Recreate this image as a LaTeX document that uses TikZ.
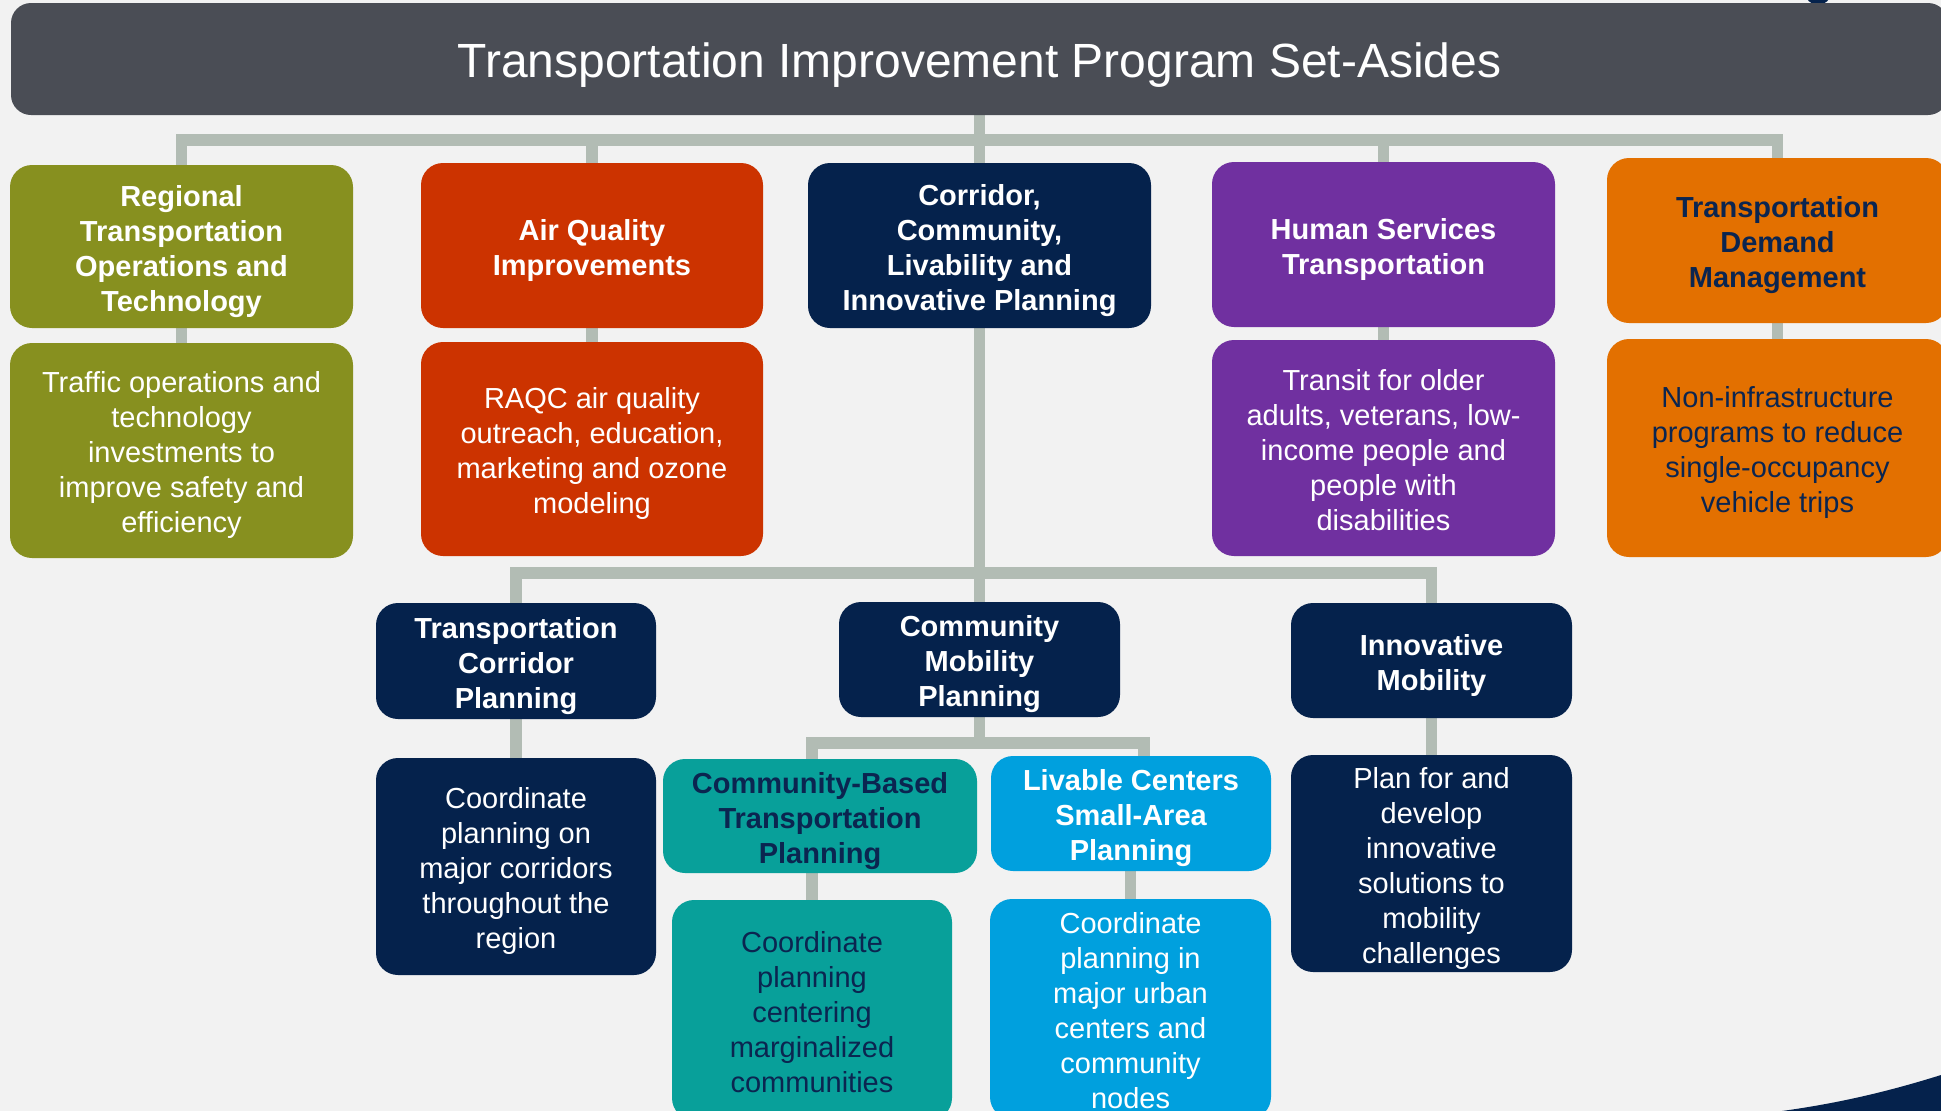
\documentclass[tikz,border=0pt]{standalone}
\usepackage{fontspec}
\setmainfont{Liberation Sans}
\usetikzlibrary{backgrounds}
\definecolor{bgc}{HTML}{F2F2F2}
\definecolor{titlec}{HTML}{4A4D55}
\definecolor{olivec}{HTML}{87901F}
\definecolor{redc}{HTML}{CC3300}
\definecolor{navyc}{HTML}{05224C}
\definecolor{purplec}{HTML}{7030A0}
\definecolor{orangec}{HTML}{E37000}
\definecolor{tealc}{HTML}{08A09A}
\definecolor{bluec}{HTML}{00A0DE}
\definecolor{connc}{HTML}{B2BCB4}
\definecolor{navytext}{HTML}{0B2550}
\newcommand{\bxt}[2][-5pt]{\raisebox{#1}[\height][\depth]{\begin{tabular}{@{}c@{}}#2\end{tabular}}}
\begin{document}
\begin{tikzpicture}[x=1pt,y=-1pt,
  box/.style={rounded corners=22pt,inner sep=0pt,align=center,font=\fontsize{29}{35}\selectfont},
  head/.style={box,font=\fontsize{29}{35}\selectfont\bfseries},
  conn/.style={draw=connc,line width=11.5pt}]
\useasboundingbox (0,0) rectangle (1941,1111);
\clip (0,0) rectangle (1941,1111);
\begin{pgfonlayer}{background}
\fill[bgc] (0,0) rectangle (1941,1111);
\end{pgfonlayer}
% decorative shapes
\fill[navyc] (1818,-8) circle (13);
\fill[navyc] (1782,1111) .. controls (1840,1103) and (1890,1091) .. (1941,1075) -- (1941,1111) -- cycle;
% title
\node[box,fill=titlec,rounded corners=20pt,minimum width=1937pt,minimum height=112pt,text=white,font=\fontsize{48}{58}\selectfont] (title) at (979.5,59) {\bxt[-7pt]{Transportation Improvement Program Set-Asides}};
% top row
\node[head,fill=olivec,text=white,minimum width=343pt,minimum height=163pt] (reg) at (181.5,246.5) {\bxt{Regional\\Transportation\\Operations and\\Technology}};
\node[box,fill=olivec,text=white,minimum width=343pt,minimum height=215pt] (regd) at (181.5,450.5) {\bxt{Traffic operations and\\technology\\investments to\\improve safety and\\efficiency}};
\node[head,fill=redc,text=white,minimum width=342pt,minimum height=165pt] (air) at (592,245.5) {\bxt{Air Quality\\Improvements}};
\node[box,fill=redc,text=white,minimum width=342pt,minimum height=214pt] (aird) at (592,449) {\bxt{RAQC air quality\\outreach, education,\\marketing and ozone\\modeling}};
\node[head,fill=navyc,text=white,minimum width=343pt,minimum height=165pt] (cor) at (979.5,245.5) {\bxt{Corridor,\\Community,\\Livability and\\Innovative Planning}};
\node[head,fill=purplec,text=white,minimum width=343pt,minimum height=165pt] (hum) at (1383.5,244.5) {\bxt{Human Services\\Transportation}};
\node[box,fill=purplec,text=white,minimum width=343pt,minimum height=216pt] (humd) at (1383.5,448) {\bxt{Transit for older\\adults, veterans, low-\\income people and\\people with\\disabilities}};
\node[head,fill=orangec,text=navytext,minimum width=341pt,minimum height=165pt] (tdm) at (1777.5,240.5) {\bxt{Transportation\\Demand\\Management}};
\node[box,fill=orangec,text=navytext,minimum width=341pt,minimum height=218pt] (tdmd) at (1777.5,448) {\bxt{Non-infrastructure\\programs to reduce\\single-occupancy\\vehicle trips}};
% third row
\node[head,fill=navyc,text=white,minimum width=280pt,minimum height=116pt] (tcp) at (516,661) {\bxt{Transportation\\Corridor\\Planning}};
\node[box,fill=navyc,text=white,minimum width=280pt,minimum height=217pt] (tcpd) at (516,866.5) {\bxt{Coordinate\\planning on\\major corridors\\throughout the\\region}};
\node[head,fill=navyc,text=white,minimum width=281pt,minimum height=115pt] (cmp) at (979.5,659.5) {\bxt{Community\\Mobility\\Planning}};
\node[head,fill=navyc,text=white,minimum width=281pt,minimum height=115pt] (inn) at (1431.5,660.5) {\bxt{Innovative\\Mobility}};
\node[box,fill=navyc,text=white,minimum width=281pt,minimum height=217pt] (innd) at (1431.5,863.5) {\bxt{Plan for and\\develop\\innovative\\solutions to\\mobility\\challenges}};
% fourth row
\node[head,fill=tealc,text=navytext,minimum width=314pt,minimum height=114pt] (cbtp) at (820,816) {\bxt{Community-Based\\Transportation\\Planning}};
\node[head,fill=bluec,text=white,minimum width=280pt,minimum height=115pt] (lc) at (1131,813.5) {\bxt{Livable Centers\\Small-Area\\Planning}};
\node[box,fill=tealc,text=navytext,minimum width=280pt,minimum height=220pt] (cbtd) at (812,1010) {\bxt{Coordinate\\planning\\centering\\marginalized\\communities}};
\node[box,fill=bluec,text=white,minimum width=281pt,minimum height=220pt] (lcd) at (1130.5,1009) {\bxt{Coordinate\\planning in\\major urban\\centers and\\community\\nodes}};
% connectors
\begin{pgfonlayer}{background}
\coordinate (b1) at (979.5,140);
\draw[conn] (reg.north) |- (b1) -| (tdm.north);
\draw[conn] (title.south) -- (cor.north);
\draw[conn] (air.north) -- (air.north |- b1);
\draw[conn] (hum.north) -- (hum.north |- b1);
\draw[conn] (reg.south) -- (regd.north);
\draw[conn] (air.south) -- (aird.north);
\draw[conn] (hum.south) -- (humd.north);
\draw[conn] (tdm.south) -- (tdmd.north);
\coordinate (b2) at (979.5,573);
\draw[conn] (tcp.north) |- (b2) -| (inn.north);
\draw[conn] (cor.south) -- (cmp.north);
\draw[conn] (tcp.south) -- (tcpd.north);
\draw[conn] (inn.south) -- (innd.north);
\coordinate (b3l) at (812,743);
\coordinate (b3r) at (1144,743);
\draw[conn] (b3l |- cbtp.north) -- (b3l) -- (b3r) -- (b3r |- lc.north);
\draw[conn] (cmp.south) -- (cmp.south |- b3l);
\draw[conn] (cbtd.north) -- (cbtd.north |- cbtp.south);
\draw[conn] (lcd.north) -- (lcd.north |- lc.south);
\end{pgfonlayer}
\end{tikzpicture}
\end{document}
